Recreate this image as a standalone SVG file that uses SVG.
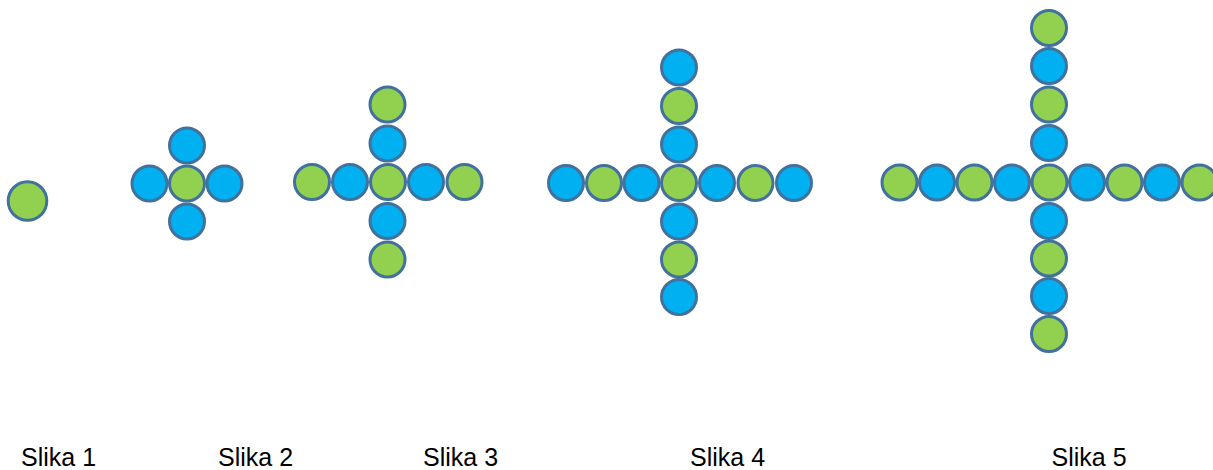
<svg xmlns="http://www.w3.org/2000/svg" width="1213" height="470" viewBox="0 0 1213 470">
<style>
.g{fill:#92D050;stroke:#41719C;stroke-width:3}
.b{fill:#00B0F0;stroke:#41719C;stroke-width:3}
.lbl{font-family:"Liberation Sans",Arial,sans-serif;font-size:25px;fill:#000}
</style>
<rect width="1213" height="470" fill="#fff"/>
<g id="fig1">
<circle class="g" cx="27.5" cy="201" r="19.3"/>
</g>
<g id="fig2">
<circle class="b" cx="187" cy="145.5" r="17.5"/>
<circle class="b" cx="187" cy="221.5" r="17.5"/>
<circle class="b" cx="149.5" cy="183.5" r="17.5"/>
<circle class="b" cx="224.5" cy="183.5" r="17.5"/>
<circle class="g" cx="187" cy="183.5" r="17.5"/>
</g>
<g id="fig3">
<circle class="g" cx="387.5" cy="104.5" r="17.5"/>
<circle class="b" cx="387.5" cy="143.5" r="17.5"/>
<circle class="b" cx="387.5" cy="221" r="17.5"/>
<circle class="g" cx="387.5" cy="259.5" r="17.5"/>
<circle class="g" cx="312" cy="182" r="17.5"/>
<circle class="b" cx="350" cy="182" r="17.5"/>
<circle class="b" cx="426" cy="182" r="17.5"/>
<circle class="g" cx="464.5" cy="182" r="17.5"/>
<circle class="g" cx="388" cy="182" r="17.5"/>
</g>
<g id="fig4">
<circle class="b" cx="679" cy="67.5" r="17.5"/>
<circle class="g" cx="679" cy="106" r="17.5"/>
<circle class="b" cx="679" cy="144.5" r="17.5"/>
<circle class="b" cx="679" cy="221.5" r="17.5"/>
<circle class="g" cx="679" cy="259.5" r="17.5"/>
<circle class="b" cx="679" cy="297" r="17.5"/>
<circle class="b" cx="566" cy="183" r="17.5"/>
<circle class="g" cx="604" cy="183" r="17.5"/>
<circle class="b" cx="641.5" cy="183" r="17.5"/>
<circle class="b" cx="717" cy="183" r="17.5"/>
<circle class="g" cx="755.5" cy="183" r="17.5"/>
<circle class="b" cx="794" cy="183" r="17.5"/>
<circle class="g" cx="679" cy="183" r="17.5"/>
</g>
<g id="fig5">
<circle class="g" cx="1049" cy="28" r="17.5"/>
<circle class="b" cx="1049" cy="66" r="17.5"/>
<circle class="g" cx="1049" cy="104.5" r="17.5"/>
<circle class="b" cx="1049" cy="143" r="17.5"/>
<circle class="b" cx="1049" cy="221" r="17.5"/>
<circle class="g" cx="1049" cy="258.5" r="17.5"/>
<circle class="b" cx="1049" cy="296" r="17.5"/>
<circle class="g" cx="1049" cy="334" r="17.5"/>
<circle class="g" cx="899.5" cy="182.5" r="17.5"/>
<circle class="b" cx="937" cy="182.5" r="17.5"/>
<circle class="g" cx="974.5" cy="182.5" r="17.5"/>
<circle class="b" cx="1012" cy="182.5" r="17.5"/>
<circle class="b" cx="1087" cy="182.5" r="17.5"/>
<circle class="g" cx="1124.5" cy="182.5" r="17.5"/>
<circle class="b" cx="1162" cy="182.5" r="17.5"/>
<circle class="g" cx="1199.5" cy="182.5" r="17.5"/>
<circle class="g" cx="1049.5" cy="182.5" r="17.5"/>
</g>
<g id="labels">
<text class="lbl" x="21" y="466">Slika 1</text>
<text class="lbl" x="218" y="466">Slika 2</text>
<text class="lbl" x="423" y="466">Slika 3</text>
<text class="lbl" x="690" y="466">Slika 4</text>
<text class="lbl" x="1051.5" y="466">Slika 5</text>
</g>
</svg>
